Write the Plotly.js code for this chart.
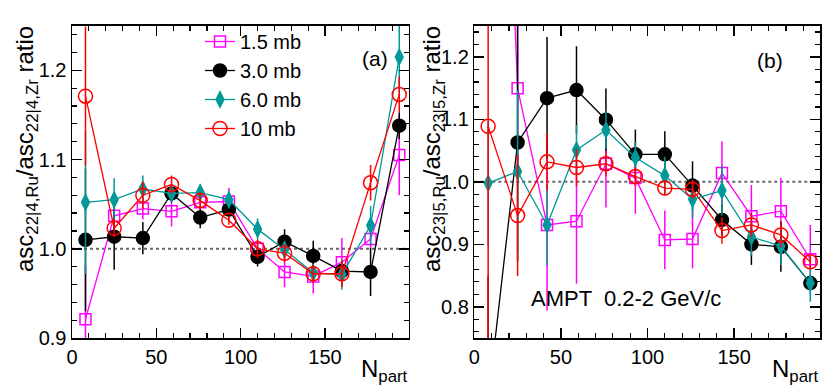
<!DOCTYPE html>
<html>
<head>
<meta charset="utf-8">
<script src="https://cdn.plot.ly/plotly-3.0.1.min.js"></script>
<style>
  body { margin: 0; background: #fff; }
  #chart { width: 830px; height: 385px; }
</style>
</head>
<body>
<div id="chart"></div>
<script>
    // N_part bins (same for both panels)
    const nPart = [8, 25, 42, 59, 76, 93, 110, 126, 143, 160, 177, 194];
    const seriesNames = ['1.5 mb', '3.0 mb', '6.0 mb', '10 mb'];

    // panel (a): asc22|4 Ru/Zr ratio
    const a15 = [0.921, 1.037, 1.045, 1.042, 1.052, 1.053, 1.000, 0.974, 0.969, 0.985, 1.011, 1.105];
    const a15Err = [0.06, 0.008, 0.012, 0.017, 0.006, 0.015, 0.010, 0.017, 0.019, 0.027, 0.010, 0.045];
    const a30 = [1.010, 1.0135, 1.012, 1.062, 1.035, 1.044, 0.991, 1.008, 0.992, 0.975, 0.974, 1.138];
    const a30Err = [0.08, 0.037, 0.018, 0.010, 0.012, 0.010, 0.011, 0.014, 0.017, 0.010, 0.027, 0.015];
    const a60 = [1.052, 1.055, 1.067, 1.062, 1.063, 1.055, 1.022, 0.999, 0.973, 0.971, 1.026, 1.215];
    const a60Err = [0.08, 0.024, 0.015, 0.010, 0.010, 0.010, 0.012, 0.010, 0.010, 0.017, 0.022, 0.040];
    const a100 = [1.171, 1.023, 1.060, 1.072, 1.054, 1.032, 1.000, 0.995, 0.972, 0.972, 1.074, 1.173];
    const a100Err = [0.078, 0.010, 0.015, 0.010, 0.010, 0.005, 0.010, 0.010, 0.010, 0.015, 0.020, 0.020];

    // panel (b): asc23|5 Ru/Zr ratio
    const b15 = [2.3, 1.150, 0.931, 0.937, 1.029, 1.006, 0.907, 0.9085, 1.014, 0.945, 0.953, 0.876];
    const b15Err = [0.3, 0.12, 0.137, 0.10, 0.07, 0.057, 0.047, 0.047, 0.051, 0.050, 0.053, 0.055];
    const b30 = [0.65, 1.063, 1.134, 1.147, 1.0995, 1.044, 1.044, 0.994, 0.939, 0.900, 0.896, 0.838];
    const b30Err = [0.2, 0.19, 0.098, 0.07, 0.05, 0.04, 0.037, 0.039, 0.025, 0.033, 0.04, 0.012];
    const b60 = [0.998, 1.0166, 0.931, 1.051, 1.083, 1.039, 1.010, 0.972, 0.986, 0.912, 0.897, 0.838];
    const b60Err = [0.1, 0.13, 0.065, 0.04, 0.03, 0.025, 0.03, 0.03, 0.04, 0.03, 0.03, 0.03];
    const b100 = [1.089, 0.946, 1.032, 1.023, 1.029, 1.0085, 0.990, 0.988, 0.922, 0.931, 0.915, 0.872];
    const b100Err = [0.4, 0.097, 0.046, 0.03, 0.02, 0.015, 0.012, 0.015, 0.021, 0.02, 0.02, 0.01];

    const FONT = 'Liberation Sans, Arial, sans-serif';
    const styles = [
        {color: '#ff00ff', symbol: 'square-open', size: 11, lw: 1.3},
        {color: '#000000', symbol: 'circle', size: 13, lw: 1.3},
        {color: '#009999', symbol: 'diamond-tall', size: 11, lw: 1.3},
        {color: '#ff0000', symbol: 'circle-open', size: 14, lw: 1.3}
    ];

    function makeTrace(y, err, i, xa, ya, legend) {
        const s = styles[i];
        return {
            x: nPart, y: y, type: 'scatter', mode: 'lines+markers',
            name: seriesNames[i], xaxis: xa, yaxis: ya, showlegend: legend,
            line: {color: s.color, width: s.lw},
            marker: {color: s.color, symbol: s.symbol, size: s.size, line: {color: s.color, width: 1.5}},
            error_y: {type: 'data', array: err, visible: true, color: s.color, thickness: 1.5, width: 0}
        };
    }

    const traces = [
        makeTrace(a15, a15Err, 0, 'x', 'y', true),
        makeTrace(a30, a30Err, 1, 'x', 'y', true),
        makeTrace(a60, a60Err, 2, 'x', 'y', true),
        makeTrace(a100, a100Err, 3, 'x', 'y', true),
        makeTrace(b15, b15Err, 0, 'x2', 'y2', false),
        makeTrace(b30, b30Err, 1, 'x2', 'y2', false),
        makeTrace(b60, b60Err, 2, 'x2', 'y2', false),
        makeTrace(b100, b100Err, 3, 'x2', 'y2', false)
    ];

    function xAxis(dom, anchor) {
        return {
            domain: dom, anchor: anchor, range: [0, 199.6],
            tick0: 0, dtick: 50, ticks: 'inside', ticklen: 10, tickwidth: 1.5, tickcolor: '#000',
            mirror: 'allticks', showline: true, linecolor: '#000', linewidth: 1.5,
            showgrid: false, zeroline: false,
            minor: {dtick: 10, ticks: 'inside', ticklen: 5, tickwidth: 1.2, tickcolor: '#000', showgrid: false},
            tickfont: {family: FONT, size: 20, color: '#000'}
        };
    }
    function yAxis(dom, anchor, range) {
        return {
            domain: dom, anchor: anchor, range: range,
            tick0: 0, dtick: 0.1, tickformat: '.1f', ticks: 'inside', ticklen: 10, tickwidth: 1.5, tickcolor: '#000',
            mirror: 'allticks', showline: true, linecolor: '#000', linewidth: 1.5,
            showgrid: false, zeroline: false,
            minor: {dtick: 0.02, ticks: 'inside', ticklen: 5, tickwidth: 1.2, tickcolor: '#000', showgrid: false},
            tickfont: {family: FONT, size: 20, color: '#000'}
        };
    }

    const yDom = [47 / 385, 359.3 / 385];
    const layout = {
        width: 830, height: 385,
        margin: {l: 0, r: 0, t: 0, b: 0},
        paper_bgcolor: '#fff', plot_bgcolor: '#fff',
        font: {family: FONT, color: '#000'},
        xaxis: xAxis([72 / 830, 408.7 / 830], 'y'),
        yaxis: yAxis(yDom, 'x', [0.9, 1.25]),
        xaxis2: xAxis([474.3 / 830, 820 / 830], 'y2'),
        yaxis2: yAxis(yDom, 'x2', [0.75, 1.25]),
        legend: {
            x: 200 / 830, y: 363 / 385, xanchor: 'left', yanchor: 'top',
            bgcolor: 'rgba(0,0,0,0)', borderwidth: 0,
            font: {family: FONT, size: 20, color: '#000'}, tracegroupgap: 0
        },
        shapes: [
            {type: 'line', xref: 'x domain', yref: 'y', x0: 0, x1: 1, y0: 1, y1: 1,
             line: {color: '#666', width: 2, dash: 'dot'}, layer: 'below'},
            {type: 'line', xref: 'x2 domain', yref: 'y2', x0: 0, x1: 1, y0: 1, y1: 1,
             line: {color: '#666', width: 2, dash: 'dot'}, layer: 'below'}
        ],
        annotations: [
            {text: '(a)', xref: 'paper', yref: 'paper', x: 375 / 830, y: (385 - 45) / 385,
             showarrow: false, font: {family: FONT, size: 21}},
            {text: '(b)', xref: 'paper', yref: 'paper', x: 785 / 830, y: (385 - 47) / 385,
             showarrow: false, font: {family: FONT, size: 21}},
            {text: 'AMPT  0.2-2 GeV/c', xref: 'paper', yref: 'paper', x: 529 / 830, y: (385 - 313) / 385,
             xanchor: 'left', showarrow: false, font: {family: FONT, size: 22}},
            {text: 'N<sub>part</sub>', xref: 'paper', yref: 'paper', x: 410 / 830, y: (385 - 353) / 385,
             xanchor: 'right', yanchor: 'top', showarrow: false, font: {family: FONT, size: 24}},
            {text: 'N<sub>part</sub>', xref: 'paper', yref: 'paper', x: 821 / 830, y: (385 - 353) / 385,
             xanchor: 'right', yanchor: 'top', showarrow: false, font: {family: FONT, size: 24}},
            {text: 'asc<sub>22|4,Ru</sub>/asc<sub>22|4,Zr</sub> ratio', xref: 'paper', yref: 'paper',
             x: 26 / 830, y: (385 - 24) / 385, xanchor: 'center', yanchor: 'top', textangle: -90,
             showarrow: false, font: {family: FONT, size: 24}},
            {text: 'asc<sub>23|5,Ru</sub>/asc<sub>23|5,Zr</sub> ratio', xref: 'paper', yref: 'paper',
             x: 433 / 830, y: (385 - 24) / 385, xanchor: 'center', yanchor: 'top', textangle: -90,
             showarrow: false, font: {family: FONT, size: 24}}
        ]
    };

    Plotly.newPlot('chart', traces, layout, {staticPlot: true, displayModeBar: false});
</script>
</body>
</html>
